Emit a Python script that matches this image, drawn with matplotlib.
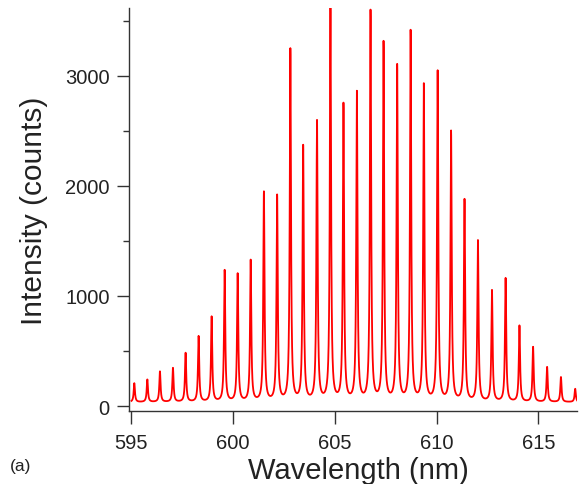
import numpy as np
import matplotlib.pyplot as plt
from matplotlib.ticker import MultipleLocator

plt.rcParams['font.family'] = ['Liberation Sans', 'DejaVu Sans']

# peak positions (nm) and peak heights (counts)
peak_nm = [595.14, 595.78, 596.40, 597.04, 597.66, 598.30, 598.94, 599.58,
           600.22, 600.86, 601.51, 602.16, 602.81, 603.44, 604.12, 604.78,
           605.42, 606.08, 606.75, 607.39, 608.06, 608.72, 609.37, 610.05,
           610.71, 611.37, 612.03, 612.72, 613.39, 614.07, 614.74, 615.43,
           616.11, 616.81]
peak_counts = [206, 239, 312, 343, 479, 630, 806, 1227,
               1194, 1315, 1934, 1900, 3230, 2348, 2573, 3620,
               2727, 2836, 3573, 3288, 3079, 3391, 2906, 3027,
               2482, 1864, 1494, 1043, 1155, 725, 533, 352,
               261, 155]
baseline_counts = 35
peak_hwhm_nm = 0.036

xticks = [595, 600, 605, 610, 615]

wavelength = np.linspace(595.0, 617.0, 4401)
intensity = np.full_like(wavelength, baseline_counts)
for c, h in zip(peak_nm, peak_counts):
    intensity += (h - baseline_counts) / (1 + ((wavelength - c) / peak_hwhm_nm) ** 2)

fig = plt.figure(figsize=(5.87, 4.85), dpi=100)
ax = fig.add_axes([0.2198, 0.1505, 0.7632, 0.8309])
ax.plot(wavelength, intensity, color='#ff0000', lw=1.3)

ax.set_xlim(594.88, 616.9)
ax.set_ylim(-45, 3615)
ax.set_xticks(xticks)
ax.yaxis.set_major_locator(MultipleLocator(1000))
ax.yaxis.set_minor_locator(MultipleLocator(500))

for s in ['top', 'right']:
    ax.spines[s].set_visible(False)
for s in ['left', 'bottom']:
    ax.spines[s].set_color('#333333')
    ax.spines[s].set_linewidth(1.0)

ax.tick_params(axis='both', which='major', direction='out', length=9, width=1,
               color='#333333', labelsize=14.5, labelcolor='#222222')
ax.tick_params(axis='y', which='major', pad=5)
ax.tick_params(axis='x', which='major', pad=7)
ax.tick_params(axis='y', which='minor', direction='out', length=4.5, width=1,
               color='#333333')

ax.set_xlabel('Wavelength (nm)', fontsize=21, color='#222222')
ax.xaxis.set_label_coords(0.513, -0.111)
ax.set_ylabel('Intensity (counts)', fontsize=21.5, color='#222222', labelpad=12)

fig.text(0.017, 0.028, '(a)', fontsize=12.5, color='#222222')

fig.savefig('out.png', dpi=100)
